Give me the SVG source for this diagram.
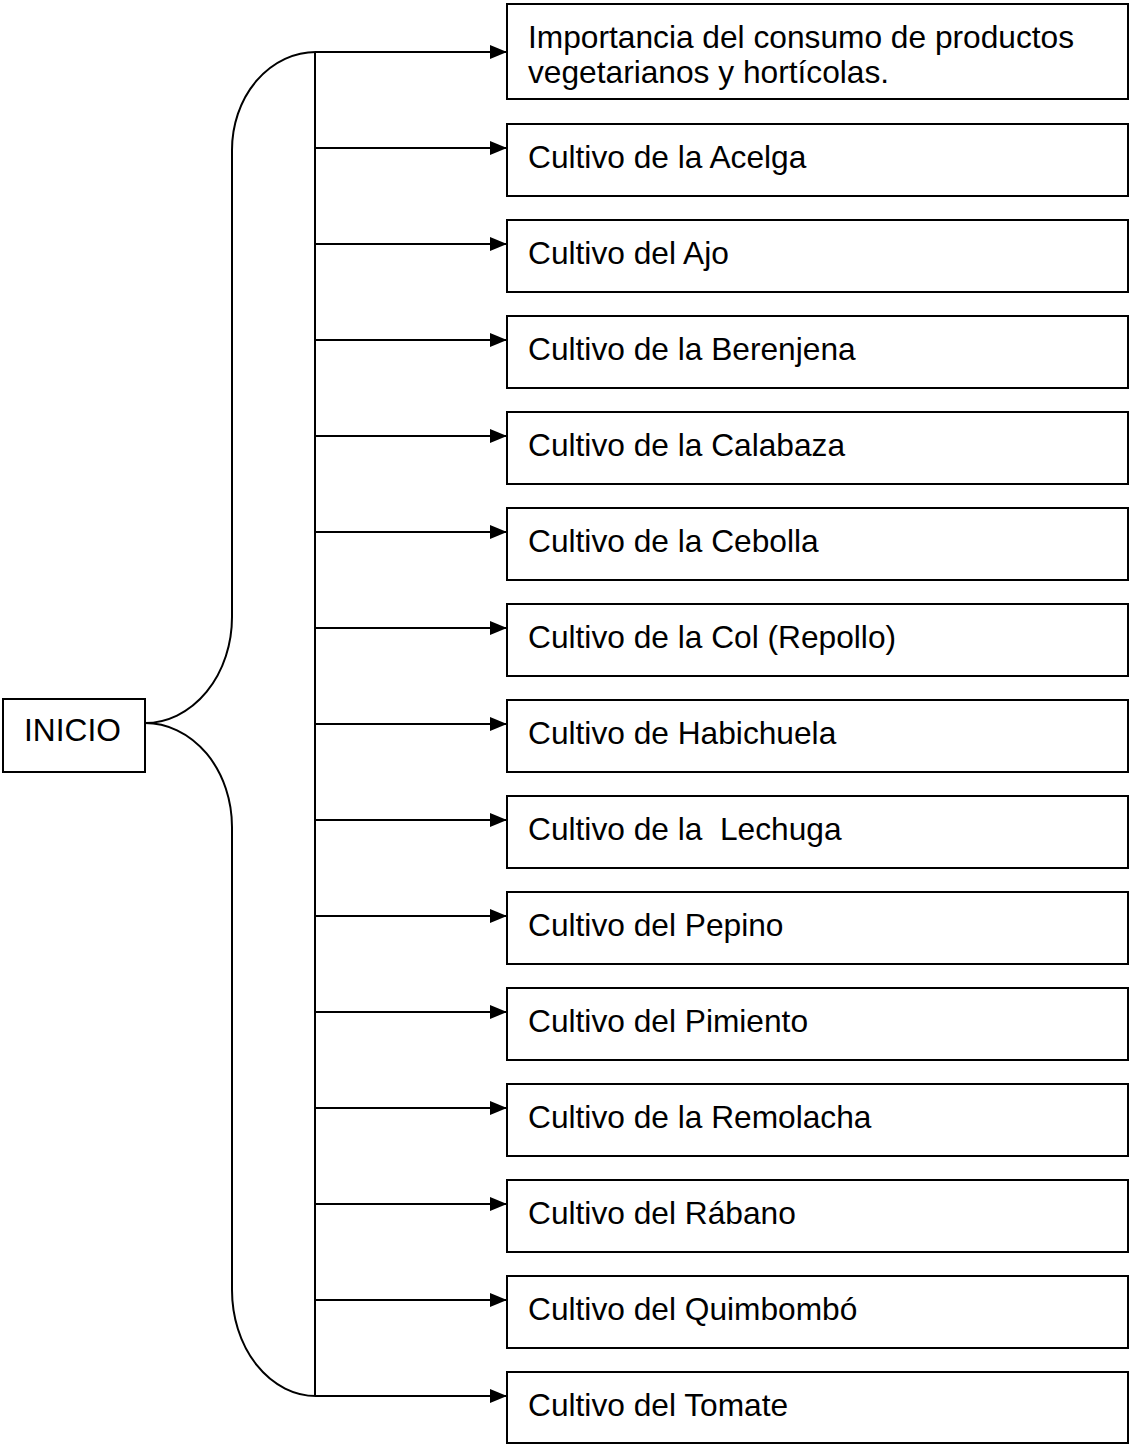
<svg xmlns="http://www.w3.org/2000/svg" width="1131" height="1444" viewBox="0 0 1131 1444">
<style>
.box{fill:#fff;stroke:#000;stroke-width:2}
.t{font-family:"Liberation Sans",Arial,sans-serif;font-size:31.7px;fill:#000}
.ln{fill:none;stroke:#000;stroke-width:2}
</style>
<defs>
<marker id="ah" markerWidth="17" markerHeight="14" refX="17" refY="7" orient="auto" markerUnits="userSpaceOnUse" viewBox="0 0 17 14">
<path d="M0,0 L17,7 L0,14 Z" fill="#000"/>
</marker>
</defs>
<rect width="1131" height="1444" fill="#fff"/>
<g id="connectors">
<path class="ln" d="M316,52 A84,98 0 0 0 232,150 L232,617 A87,106 0 0 1 145,723 A87,104 0 0 1 232,827 L232,1290 A84,106 0 0 0 316,1396"/>
<line class="ln" x1="315" y1="52" x2="315" y2="1396"/>
<line class="ln" x1="315" y1="52" x2="507" y2="52" marker-end="url(#ah)"/>
<line class="ln" x1="315" y1="148" x2="507" y2="148" marker-end="url(#ah)"/>
<line class="ln" x1="315" y1="244" x2="507" y2="244" marker-end="url(#ah)"/>
<line class="ln" x1="315" y1="340" x2="507" y2="340" marker-end="url(#ah)"/>
<line class="ln" x1="315" y1="436" x2="507" y2="436" marker-end="url(#ah)"/>
<line class="ln" x1="315" y1="532" x2="507" y2="532" marker-end="url(#ah)"/>
<line class="ln" x1="315" y1="628" x2="507" y2="628" marker-end="url(#ah)"/>
<line class="ln" x1="315" y1="724" x2="507" y2="724" marker-end="url(#ah)"/>
<line class="ln" x1="315" y1="820" x2="507" y2="820" marker-end="url(#ah)"/>
<line class="ln" x1="315" y1="916" x2="507" y2="916" marker-end="url(#ah)"/>
<line class="ln" x1="315" y1="1012" x2="507" y2="1012" marker-end="url(#ah)"/>
<line class="ln" x1="315" y1="1108" x2="507" y2="1108" marker-end="url(#ah)"/>
<line class="ln" x1="315" y1="1204" x2="507" y2="1204" marker-end="url(#ah)"/>
<line class="ln" x1="315" y1="1300" x2="507" y2="1300" marker-end="url(#ah)"/>
<line class="ln" x1="315" y1="1396" x2="507" y2="1396" marker-end="url(#ah)"/>
</g>
<g id="inicio"><rect class="box" x="3" y="699" width="142" height="73"/><text class="t" x="24" y="741">INICIO</text></g>
<g id="n0"><rect class="box" x="507" y="4" width="621" height="95"/><text class="t" x="528" y="48">Importancia del consumo de productos</text><text class="t" x="528" y="83">vegetarianos y hortícolas.</text></g>
<g id="n1"><rect class="box" x="507" y="124" width="621" height="72"/><text class="t" x="528" y="168">Cultivo de la Acelga</text></g>
<g id="n2"><rect class="box" x="507" y="220" width="621" height="72"/><text class="t" x="528" y="264">Cultivo del Ajo</text></g>
<g id="n3"><rect class="box" x="507" y="316" width="621" height="72"/><text class="t" x="528" y="360">Cultivo de la Berenjena</text></g>
<g id="n4"><rect class="box" x="507" y="412" width="621" height="72"/><text class="t" x="528" y="456">Cultivo de la Calabaza</text></g>
<g id="n5"><rect class="box" x="507" y="508" width="621" height="72"/><text class="t" x="528" y="552">Cultivo de la Cebolla</text></g>
<g id="n6"><rect class="box" x="507" y="604" width="621" height="72"/><text class="t" x="528" y="648">Cultivo de la Col (Repollo)</text></g>
<g id="n7"><rect class="box" x="507" y="700" width="621" height="72"/><text class="t" x="528" y="744">Cultivo de Habichuela</text></g>
<g id="n8"><rect class="box" x="507" y="796" width="621" height="72"/><text class="t" x="528" y="840" xml:space="preserve">Cultivo de la  Lechuga</text></g>
<g id="n9"><rect class="box" x="507" y="892" width="621" height="72"/><text class="t" x="528" y="936">Cultivo del Pepino</text></g>
<g id="n10"><rect class="box" x="507" y="988" width="621" height="72"/><text class="t" x="528" y="1032">Cultivo del Pimiento</text></g>
<g id="n11"><rect class="box" x="507" y="1084" width="621" height="72"/><text class="t" x="528" y="1128">Cultivo de la Remolacha</text></g>
<g id="n12"><rect class="box" x="507" y="1180" width="621" height="72"/><text class="t" x="528" y="1224">Cultivo del Rábano</text></g>
<g id="n13"><rect class="box" x="507" y="1276" width="621" height="72"/><text class="t" x="528" y="1320">Cultivo del Quimbombó</text></g>
<g id="n14"><rect class="box" x="507" y="1372" width="621" height="71"/><text class="t" x="528" y="1416">Cultivo del Tomate</text></g>
</svg>
